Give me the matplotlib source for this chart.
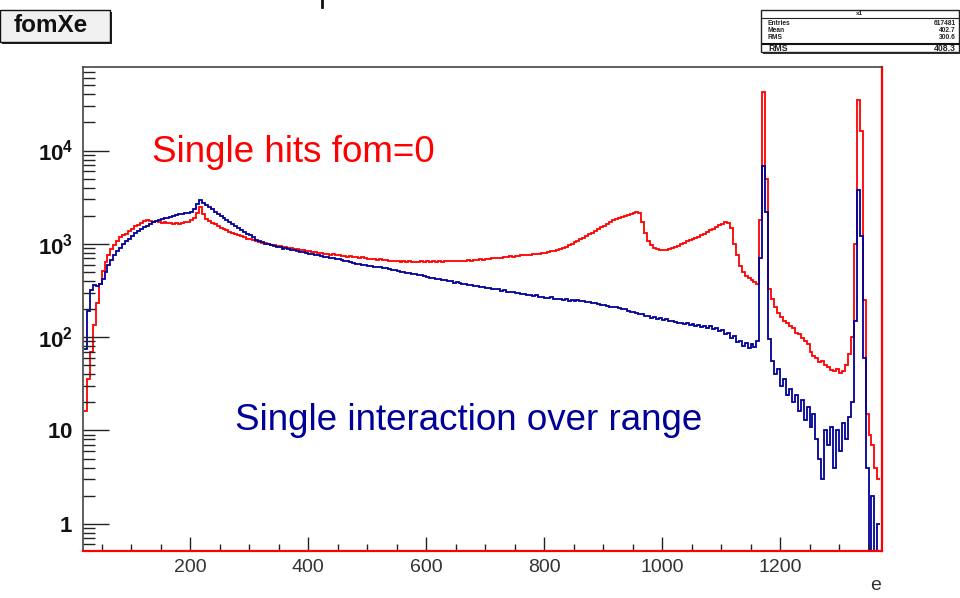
import matplotlib.pyplot as plt
import numpy as np
from matplotlib.patches import Rectangle
from matplotlib.lines import Line2D
from matplotlib.ticker import FixedLocator, LogLocator, NullFormatter, MultipleLocator

plt.rcParams['font.family'] = ['Liberation Sans', 'DejaVu Sans']
plt.rcParams['mathtext.fontset'] = 'custom'
plt.rcParams['mathtext.rm'] = 'Liberation Sans'
plt.rcParams['mathtext.bf'] = 'Liberation Sans:bold'

W, H = 960, 598

# histogram binning: 5 units per bin starting at e = 20
bin_lo = 20
bin_width = 5

# counts per bin, one row per 100 units of e
single_hits = np.array([
    16, 36, 70, 135, 230, 370, 510, 640, 760, 870, 960, 1070, 1170, 1230, 1290, 1370, 1440, 1540, 1610, 1690,
    1740, 1790, 1750, 1720, 1740, 1710, 1690, 1700, 1660, 1690, 1640, 1670, 1650, 1670, 1700, 1720, 1800, 1900, 2150, 2500,
    2100, 1850, 1760, 1680, 1620, 1540, 1490, 1430, 1390, 1350, 1320, 1270, 1240, 1210, 1180, 1140, 1120, 1090, 1070, 1040,
    1030, 1010, 1000, 970, 965, 945, 940, 915, 920, 900, 895, 885, 870, 860, 855, 835, 830, 815, 810, 795,
    800, 785, 780, 765, 770, 755, 750, 740, 745, 730, 735, 720, 720, 710, 715, 700, 695, 690, 690, 675,
    680, 665, 670, 655, 662, 650, 655, 642, 650, 640, 648, 638, 645, 640, 650, 638, 648, 642, 652, 645,
    655, 645, 652, 648, 655, 650, 660, 652, 662, 658, 668, 662, 672, 670, 682, 678, 690, 688, 700, 702,
    712, 708, 722, 720, 732, 728, 742, 740, 752, 750, 765, 762, 775, 772, 785, 790, 800, 812, 828, 842,
    860, 880, 905, 928, 960, 995, 1040, 1075, 1120, 1160, 1200, 1260, 1320, 1375, 1440, 1500, 1565, 1640, 1715, 1790,
    1850, 1905, 1955, 2000, 2050, 2090, 2140, 2180, 2120, 1700, 1300, 1080, 965, 905, 880, 865, 855, 860, 872, 895,
    925, 955, 995, 1030, 1060, 1095, 1120, 1150, 1190, 1240, 1290, 1345, 1400, 1455, 1520, 1580, 1640, 1700, 1660, 1480,
    1000, 750, 580, 500, 455, 430, 410, 390, 370, 1800, 42000, 5000, 330, 255, 210, 180, 165, 150, 140, 130,
    125, 112, 108, 98, 92, 84, 70, 63, 60, 54, 56, 50, 48, 44, 43, 46, 41, 43, 50, 66,
    100, 1000, 35000, 16000, 250, 15, 9, 7, 4, 3,
])

single_interaction = np.array([
    75, 190, 320, 360, 355, 375, 420, 500, 590, 670, 750, 840, 910, 985, 1060, 1140, 1210, 1300, 1370, 1440,
    1520, 1570, 1640, 1700, 1760, 1790, 1850, 1870, 1900, 1940, 2000, 2030, 2090, 2110, 2140, 2160, 2200, 2350, 2650, 2950,
    2750, 2600, 2480, 2340, 2200, 2090, 1990, 1890, 1800, 1700, 1620, 1540, 1470, 1400, 1340, 1290, 1230, 1170, 1110, 1060,
    1040, 1000, 995, 975, 950, 930, 920, 890, 895, 870, 860, 850, 835, 825, 810, 805, 785, 780, 765, 750,
    745, 725, 720, 705, 700, 680, 690, 665, 655, 650, 635, 625, 615, 610, 595, 600, 580, 575, 570, 560,
    565, 548, 545, 535, 528, 520, 512, 505, 495, 492, 485, 480, 470, 468, 458, 452, 445, 435, 430, 418,
    420, 410, 405, 398, 402, 385, 388, 380, 372, 375, 362, 365, 352, 356, 345, 348, 338, 336, 330, 325,
    328, 315, 318, 308, 305, 302, 298, 295, 290, 292, 283, 286, 276, 280, 270, 272, 265, 262, 268, 256,
    258, 254, 250, 256, 246, 248, 243, 250, 241, 246, 238, 236, 232, 230, 226, 222, 220, 215, 212, 210,
    208, 204, 198, 200, 192, 188, 186, 180, 176, 178, 168, 170, 162, 165, 158, 160, 152, 155, 148, 150,
    145, 142, 140, 138, 141, 134, 137, 130, 134, 128, 132, 124, 130, 121, 126, 117, 120, 108, 112, 99,
    102, 88, 92, 80, 86, 76, 84, 78, 92, 700, 6800, 2200, 95, 55, 40, 46, 30, 36, 24, 28,
    20, 24, 16, 21, 13, 18, 11, 15, 8, 5, 3, 10, 7, 11, 4, 10, 6, 12, 8, 14,
    20, 150, 3800, 1200, 60, 4, 0, 2, 0, 1,
])

y_ticks = [1, 10, 100, 1000, 10000]
y_tick_labels = [r'$\mathbf{1}$', r'$\mathbf{10}$', r'$\mathbf{10^{2}}$',
                 r'$\mathbf{10^{3}}$', r'$\mathbf{10^{4}}$']
x_ticks = [200, 400, 600, 800, 1000, 1200]

hist_name = 'fomXe'
stats_title = 'x1'
stats_rows = [('Entries', '617481'), ('Mean', '402.7'), ('RMS', '300.6')]
stats_last = ('RMS', '408.3')


def fig_xy(x, y):
    # pixel position (origin top-left) -> figure fraction
    return x / W, 1 - y / H


def fig_rect(x0, y0, x1, y1, **kw):
    return Rectangle((x0 / W, 1 - y1 / H), (x1 - x0) / W, (y1 - y0) / H,
                     transform=fig.transFigure, **kw)


fig = plt.figure(figsize=(W / 100, H / 100), dpi=100)
ax = fig.add_axes([82.7 / W, 1 - 551 / H, (881.5 - 82.7) / W, (551 - 67.3) / H])

edges = bin_lo + bin_width * np.arange(len(single_hits) + 1)
ax.stairs(single_hits, edges, color='#ff0000', lw=1.3, baseline=None)
ax.stairs(single_interaction, edges, color='#000099', lw=1.3, baseline=None)

ax.set_yscale('log', nonpositive='clip')
ax.set_xlim(18, 1372)
ax.set_ylim(0.51, 7.8e4)

ax.yaxis.set_major_locator(FixedLocator(y_ticks))
ax.set_yticklabels(y_tick_labels)
ax.yaxis.set_minor_locator(LogLocator(base=10, subs=np.arange(2, 10)))
ax.yaxis.set_minor_formatter(NullFormatter())
ax.xaxis.set_major_locator(FixedLocator(x_ticks))
ax.xaxis.set_minor_locator(MultipleLocator(50))

ax.tick_params(axis='y', which='major', direction='in', length=18.5, width=1,
               color='#222222', pad=7, labelsize=16, labelcolor='#111111')
ax.tick_params(axis='y', which='minor', direction='in', length=8.5, width=1, color='#222222')
ax.tick_params(axis='x', which='major', direction='in', length=10, width=1,
               color='#222222', pad=6, labelsize=14, labelcolor='#333333')
ax.tick_params(axis='x', which='minor', direction='in', length=5, width=1, color='#222222')

for side in ('left', 'top'):
    ax.spines[side].set_color('#444444')
    ax.spines[side].set_linewidth(1.2)
for side in ('right', 'bottom'):
    ax.spines[side].set_color('#ff0000')
    ax.spines[side].set_linewidth(1.6)

fig.text(*fig_xy(881, 585), 'e', ha='right', va='center', fontsize=14, color='#333333')

fig.text(*fig_xy(152, 152), 'Single hits fom=0', ha='left', va='center',
         fontsize=26.5, color='#ff0000')
fig.text(*fig_xy(235, 420), 'Single interaction over range', ha='left', va='center',
         fontsize=26.5, color='#000099')

# histogram name box with shadow
fig.add_artist(fig_rect(2, 12, 112, 44, facecolor='#222222', edgecolor='none'))
fig.add_artist(fig_rect(0, 10, 110, 42, facecolor='#f0f0f0', edgecolor='#111111', lw=1))
fig.text(*fig_xy(51, 25), hist_name, ha='center', va='center', fontsize=17.5,
         fontweight='bold', color='#111111')

# statistics box
fig.add_artist(fig_rect(763, 12, 961, 54, facecolor='#333333', edgecolor='none'))
fig.add_artist(fig_rect(761, 10, 959, 52, facecolor='white', edgecolor='#222222', lw=1))
fig.add_artist(Line2D([761 / W, 959 / W], [1 - 17.7 / H] * 2, transform=fig.transFigure,
                      color='#222222', lw=0.8))
fig.text(*fig_xy(860, 13.8), stats_title, ha='center', va='center', fontsize=4.6,
         fontweight='bold', color='#222222')
for i, (name, val) in enumerate(stats_rows):
    y = 23.3 + i * 7
    fig.text(*fig_xy(768, y), name, ha='left', va='center', fontsize=4.8,
             fontweight='bold', color='#222222')
    fig.text(*fig_xy(956, y), val, ha='right', va='center', fontsize=4.8,
             fontweight='bold', color='#222222')
fig.add_artist(Line2D([763 / W, 959 / W], [1 - 43.5 / H] * 2, transform=fig.transFigure,
                      color='#111111', lw=1.5))
fig.text(*fig_xy(768, 48.5), stats_last[0], ha='left', va='center', fontsize=6.3,
         fontweight='bold', color='#222222')
fig.text(*fig_xy(956, 48.5), stats_last[1], ha='right', va='center', fontsize=6.3,
         fontweight='bold', color='#222222')

# short mark at the top edge of the canvas
fig.add_artist(Line2D([322 / W] * 2, [1, 1 - 7 / H], transform=fig.transFigure,
                      color='#111111', lw=2))

fig.savefig('out.png', dpi=100)
